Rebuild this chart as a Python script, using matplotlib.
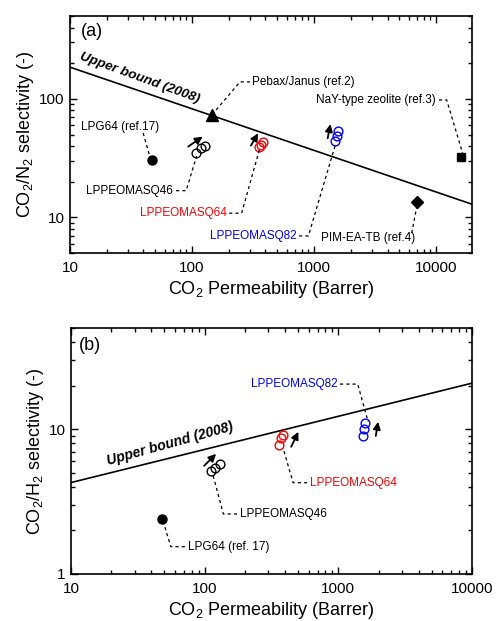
import matplotlib.pyplot as plt
import matplotlib.ticker as ticker

plt.rcParams['font.family'] = ['Liberation Sans', 'DejaVu Sans']
plt.rcParams['mathtext.fontset'] = 'custom'
plt.rcParams['mathtext.rm'] = 'Liberation Sans'

# ---- data: panel (a) CO2/N2 ----
ub_a_x = [10, 19700]
ub_a_y = [185, 12.9]
lpg64_a_x = [47]
lpg64_a_y = [30.3]
pebax_x = [147]
pebax_y = [73]
nay_x = [16000]
nay_y = [32]
pim_x = [6980]
pim_y = [13.5]
q46_a_x = [108, 119, 128]
q46_a_y = [34.9, 38.5, 40.0]
q64_a_x = [356, 368, 382]
q64_a_y = [39.3, 40.8, 43.3]
q82_a_x = [1496, 1536, 1565]
q82_a_y = [43.9, 48.4, 53.7]

# ---- data: panel (b) CO2/H2 ----
ub_b_x = [10, 10000]
ub_b_y = [4.28, 20.8]
lpg64_b_x = [48]
lpg64_b_y = [2.4]
q46_b_x = [112.5, 120.5, 130]
q46_b_y = [5.13, 5.42, 5.74]
q64_b_x = [362, 372, 388]
q64_b_y = [7.79, 8.64, 9.06]
q82_b_x = [1521, 1554, 1580]
q82_b_y = [9.0, 10.0, 11.1]

fig = plt.figure(figsize=(5.01, 6.21), dpi=100)
ax1 = fig.add_axes([0.1397, 0.5926, 0.8024, 0.3816])
ax2 = fig.add_axes([0.1417, 0.0757, 0.8004, 0.3961])

dash = (0, (2.5, 2.5))


def leader(ax, xs, ys):
    ax.plot(xs, ys, transform=ax.transAxes, color='k', lw=0.9, ls=dash)


def arrow(ax, tail, head):
    ax.annotate('', xy=head, xytext=tail, xycoords=ax.transAxes, textcoords=ax.transAxes,
                arrowprops=dict(arrowstyle='-|>', color='k', lw=1.3, mutation_scale=11,
                                shrinkA=0, shrinkB=0))


def style(ax):
    ax.set_xscale('log')
    ax.set_yscale('log')
    fmt = ticker.FuncFormatter(lambda v, _: f'{v:g}')
    ax.xaxis.set_major_formatter(fmt)
    ax.yaxis.set_major_formatter(fmt)
    ax.xaxis.set_minor_formatter(ticker.NullFormatter())
    ax.yaxis.set_minor_formatter(ticker.NullFormatter())
    ax.tick_params(which='both', direction='in', top=True, right=True, labelsize=11, width=1)
    ax.tick_params(which='major', length=5)
    ax.tick_params(which='minor', length=3)
    ax.tick_params(axis='x', which='major', pad=6)
    ax.tick_params(axis='y', which='major', pad=4)
    for s in ax.spines.values():
        s.set_linewidth(1.2)
    ax.set_xlabel(r'CO$_2$ Permeability (Barrer)', fontsize=13, labelpad=3)


# ---------- panel (a) ----------
ax1.plot(ub_a_x, ub_a_y, color='k', lw=1.2)
ax1.plot(lpg64_a_x, lpg64_a_y, 'o', color='k', ms=6.5)
ax1.plot(pebax_x, pebax_y, '^', color='k', ms=8)
ax1.plot(nay_x, nay_y, 's', color='k', ms=6)
ax1.plot(pim_x, pim_y, 'D', color='k', ms=6)
ax1.plot(q46_a_x, q46_a_y, 'o', mfc='none', mec='k', ms=6.3, mew=1)
ax1.plot(q64_a_x, q64_a_y, 'o', mfc='none', mec='red', ms=6.3, mew=1)
ax1.plot(q82_a_x, q82_a_y, 'o', mfc='none', mec='blue', ms=6.3, mew=1)
ax1.set_xlim(10, 19700)
ax1.set_ylim(5, 500)
style(ax1)
ax1.set_ylabel(r'CO$_2$/N$_2$ selectivity (-)', fontsize=13, labelpad=2)

ax1.text(0.054, 0.934, '(a)', transform=ax1.transAxes, fontsize=13, ha='center', va='center')
ax1.text(0.172, 0.737, 'Upper bound (2008)', transform=ax1.transAxes, fontsize=9.7,
         fontweight='bold', style='italic', rotation=-20, ha='center', va='center',
         rotation_mode='anchor')

fs = 8.5
ax1.text(0.124, 0.533, 'LPG64 (ref.17)', transform=ax1.transAxes, fontsize=fs, ha='center', va='center')
leader(ax1, [0.182, 0.199], [0.506, 0.405])
ax1.text(0.256, 0.263, 'LPPEOMASQ46', transform=ax1.transAxes, fontsize=fs, ha='right', va='center')
leader(ax1, [0.264, 0.289, 0.315], [0.263, 0.263, 0.409])
ax1.text(0.390, 0.168, 'LPPEOMASQ64', transform=ax1.transAxes, fontsize=fs, ha='right', va='center', color='red')
leader(ax1, [0.396, 0.427, 0.471], [0.168, 0.168, 0.435])
ax1.text(0.564, 0.072, 'LPPEOMASQ82', transform=ax1.transAxes, fontsize=fs, ha='right', va='center', color='blue')
leader(ax1, [0.570, 0.593, 0.660], [0.072, 0.072, 0.456])
ax1.text(0.741, 0.062, 'PIM-EA-TB (ref.4)', transform=ax1.transAxes, fontsize=fs, ha='center', va='center')
leader(ax1, [0.850, 0.864], [0.084, 0.207])
ax1.text(0.454, 0.722, 'Pebax/Janus (ref.2)', transform=ax1.transAxes, fontsize=fs, ha='left', va='center')
leader(ax1, [0.448, 0.423, 0.356], [0.722, 0.722, 0.589])
ax1.text(0.910, 0.646, 'NaY-type zeolite (ref.3)', transform=ax1.transAxes, fontsize=fs, ha='right', va='center')
leader(ax1, [0.918, 0.937, 0.978], [0.646, 0.646, 0.414])

arrow(ax1, (0.294, 0.449), (0.330, 0.491))
arrow(ax1, (0.450, 0.453), (0.468, 0.505))
arrow(ax1, (0.641, 0.484), (0.648, 0.544))

# ---------- panel (b) ----------
ax2.plot(ub_b_x, ub_b_y, color='k', lw=1.2)
ax2.plot(lpg64_b_x, lpg64_b_y, 'o', color='k', ms=6.5)
ax2.plot(q46_b_x, q46_b_y, 'o', mfc='none', mec='k', ms=6.3, mew=1)
ax2.plot(q64_b_x, q64_b_y, 'o', mfc='none', mec='red', ms=6.3, mew=1)
ax2.plot(q82_b_x, q82_b_y, 'o', mfc='none', mec='blue', ms=6.3, mew=1)
ax2.set_xlim(10, 10000)
ax2.set_ylim(1, 50)
style(ax2)
ax2.set_ylabel(r'CO$_2$/H$_2$ selectivity (-)', fontsize=13, labelpad=2)

ax2.text(0.047, 0.965, '(b)', transform=ax2.transAxes, fontsize=13, ha='center', va='top')
ax2.text(0.246, 0.530, 'Upper bound (2008)', transform=ax2.transAxes, fontsize=10,
         fontweight='bold', style='italic', rotation=15.5, ha='center', va='center',
         rotation_mode='anchor')

ax2.text(0.664, 0.772, 'LPPEOMASQ82', transform=ax2.transAxes, fontsize=fs, ha='right', va='center', color='blue')
leader(ax2, [0.671, 0.715, 0.741], [0.772, 0.772, 0.619])
ax2.text(0.596, 0.371, 'LPPEOMASQ64', transform=ax2.transAxes, fontsize=fs, ha='left', va='center', color='red')
leader(ax2, [0.589, 0.554, 0.529], [0.371, 0.371, 0.511])
ax2.text(0.421, 0.244, 'LPPEOMASQ46', transform=ax2.transAxes, fontsize=fs, ha='left', va='center')
leader(ax2, [0.414, 0.380, 0.353], [0.244, 0.244, 0.409])
ax2.text(0.291, 0.111, 'LPG64 (ref. 17)', transform=ax2.transAxes, fontsize=fs, ha='left', va='center')
leader(ax2, [0.284, 0.249, 0.230], [0.111, 0.111, 0.213])

arrow(ax2, (0.332, 0.440), (0.362, 0.488))
arrow(ax2, (0.549, 0.517), (0.567, 0.578))
arrow(ax2, (0.760, 0.561), (0.766, 0.619))

fig.savefig('out.png', dpi=100)
